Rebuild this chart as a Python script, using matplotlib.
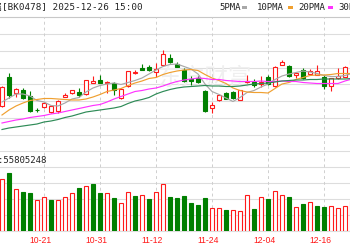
import matplotlib
matplotlib.use("Agg")
import matplotlib.pyplot as plt
from matplotlib.patches import Rectangle
from matplotlib import transforms
import numpy as np

# ---------------- data ----------------
board_name = "有色金属"
board_code = "[BK0478]"
timestamp = "2025-12-26 15:00"
volume_label = "量:55805248"
ma_labels = ["5PMA", "10PMA", "20PMA", "30PMA"]
watermark = "东方财富"

dates = ["10-13", "10-14", "10-15", "10-16", "10-17", "10-20", "10-21", "10-22", "10-23", "10-24",
         "10-27", "10-28", "10-29", "10-30", "10-31", "11-03", "11-04", "11-05", "11-06", "11-07",
         "11-10", "11-11", "11-12", "11-13", "11-14", "11-17", "11-18", "11-19", "11-20", "11-21",
         "11-24", "11-25", "11-26", "11-27", "11-28", "12-01", "12-02", "12-03", "12-04", "12-05",
         "12-08", "12-09", "12-10", "12-11", "12-12", "12-15", "12-16", "12-17", "12-18", "12-19",
         "12-22"]
tick_dates = ["10-21", "10-31", "11-12", "11-24", "12-04", "12-16"]

opens = [29, 58, 42.5, 45.5, 39, 25.5, 28.5, 23, 24, 38.5,
         42, 43.5, 41, 52.5, 55, 52.5, 52, 37, 49, 62,
         67, 68, 63, 70, 77, 71.5, 65.5, 56, 57.5, 44,
         27.5, 35, 42, 43, 35.5, 53, 53.5, 51, 58, 49,
         70.5, 69, 60.5, 65, 61.5, 60.5, 58, 49, 57, 58.5,
         71]
closes = [48, 40, 46, 37, 24.5, 25, 32, 29, 34, 40,
          45, 40, 55, 54.5, 52.5, 53.5, 45, 46.5, 64, 63,
          65.5, 65, 66.5, 81.5, 73.5, 68.5, 54.5, 54, 53.5, 24,
          30, 40, 36.5, 37, 45, 54.5, 50.5, 53, 51, 68,
          73, 59, 62, 57.5, 64.5, 64, 49, 57, 59, 68.5,
          75]
highs = [49, 62, 47, 47, 44, 27, 33, 30, 35, 42,
         45.5, 47, 55.5, 59, 60.5, 54, 53, 47, 64.5, 65,
         71, 70, 72, 85, 81, 73, 67, 59, 59, 45,
         33, 41, 43, 44, 45.5, 60, 56, 59, 60, 69,
         75, 70, 62, 67, 66, 70, 60, 57.5, 67, 69,
         77]
lows = [28, 37, 38, 36, 23, 23, 27, 22, 22, 38,
        41.5, 38, 40.5, 52, 52, 42, 40, 36.5, 48.5, 61,
        65, 64, 58, 69, 72, 68, 53, 50, 52, 23.5,
        22, 34.5, 36, 36.5, 35, 52, 48, 48, 50, 48.5,
        70, 58, 57, 56, 61, 60, 46, 44, 56.5, 58,
        70]
volume_mil = [51.7, 58.3, 41.7, 39.3, 38.3, 31, 33.7, 31, 31, 33.7,
              38.3, 42.7, 45.3, 46.7, 37.7, 37.7, 33.3, 28.3, 39.3, 35.3,
              36, 32, 39.3, 47, 34.3, 32.7, 35, 27.7, 26, 32.7,
              22.7, 22.7, 21, 21, 20, 36, 21.7, 33.7, 31.7, 39.7,
              36.3, 33.7, 23.7, 27, 29, 25.3, 24.3, 25.3, 22.7, 25.3,
              30.3]
ma5 = [33, 37, 41, 41, 39, 34.5, 33, 29.5, 29, 32,
       36, 37.5, 43, 47, 49.5, 51, 52, 50.5, 52.5, 54.5,
       57, 61, 65, 68.5, 70.5, 71, 68.5, 66, 61, 51,
       43.5, 40.5, 37, 33.5, 37.5, 42.5, 44.5, 48, 51, 55.5,
       59, 61, 62.5, 64, 63, 61.5, 59.5, 58.5, 58.5, 59.5,
       61.5]
ma10 = [20, 25, 29, 32, 34.5, 35.5, 36.5, 36.5, 36, 35.5,
        35, 35, 36, 38, 40.5, 43.5, 45, 46.5, 49.5, 52,
        54, 56.5, 57.5, 60.5, 62.5, 64, 65, 65.5, 64.5, 60.5,
        57, 54.5, 51.5, 47, 44.5, 43, 42.5, 42.5, 42, 46.5,
        51, 52.5, 55.5, 57.5, 59.5, 60, 60, 60.5, 61.5, 61.5,
        61.5]
ma20 = [12, 13.5, 15, 16, 17.5, 18.5, 19.5, 21, 22, 23.5,
        25, 26.5, 28, 29.5, 30.5, 33, 36, 38.5, 41, 43.5,
        44.5, 46, 47, 49, 51.5, 53.5, 55, 56, 57, 56.5,
        55.5, 55.5, 54.5, 54, 53.5, 53.5, 53.5, 54, 53.5, 53.5,
        54, 53.5, 53.5, 52.5, 52, 51.5, 51.5, 51.5, 51.5, 54,
        56]
ma30 = [5.5, 7, 8, 9, 10, 11, 13, 14, 15.5, 17.5,
        19, 21, 23, 24, 25, 26, 27, 28.5, 31.5, 34,
        35.5, 37.5, 41, 43.5, 45.5, 47, 48, 48.5, 49, 49.5,
        49, 49, 48.5, 48.5, 49, 50, 51, 51.5, 52, 53,
        54, 54.5, 55, 55, 55.5, 55.5, 56, 56, 56, 56,
        56.5]

# ---------------- style ----------------
RED = "#ff1a1a"
GREEN = "#007f00"
GRID = "#dddddd"
VGRID = "#cfcfcf"
MA_COLORS = ["#a8a8a8", "#f0a030", "#ff33ff", "#2e8b57"]
MONO = ["DejaVu Sans Mono", "Noto Sans CJK SC"]

W, H = 350, 250
def fy(p):
    return 1 - p / H

fig = plt.figure(figsize=(3.5, 2.5), dpi=100, facecolor="white")
ax = fig.add_axes([0, fy(135), 1, (135 - 17) / H])
axv = fig.add_axes([0, fy(231), 1, (231 - 135) / H])

x = np.arange(len(dates))
o = np.array(opens); c = np.array(closes)
hi = np.array(highs); lo = np.array(lows)
vol = np.array(volume_mil)

for a in (ax, axv):
    a.set_xlim(-2 / 7, 348 / 7)
    for s in a.spines.values():
        s.set_visible(False)
    a.set_xticks([]); a.set_yticks([])
    a.set_facecolor("none")
ax.set_ylim(0, 118)
axv.set_ylim(0, 96)

# horizontal grid
for k in range(1, 8):
    ax.axhline(118 * k / 7, color=("#c8c8c8" if k == 7 else GRID), lw=0.8, zorder=0.5, clip_on=False)
for k in range(0, 7):
    axv.axhline(96 * k / 6, color=GRID, lw=0.8, zorder=0.5, clip_on=False)

# vertical dashed grid
tick_idx = [dates.index(d) for d in tick_dates]
for a in (ax, axv):
    for t in tick_idx:
        a.axvline(t, color=VGRID, lw=0.7, ls=(0, (3, 3)), zorder=0.6)

# watermark
ax.text(205 / W, fy(78), watermark, transform=fig.transFigure, ha="center", va="center",
        fontsize=17, color="#efefef", family="Noto Sans CJK SC", zorder=0.55)

# candles
up = c >= o
edge = [RED if u else GREEN for u in up]
face = ["white" if u else GREEN for u in up]
ax.vlines(x, lo, hi, colors=edge, lw=0.8, zorder=2)
ax.bar(x, np.abs(c - o), bottom=np.minimum(o, c), width=0.64, color=face,
       edgecolor=edge, linewidth=0.8, zorder=3)

# moving averages
for vals, col in zip([ma5, ma10, ma20, ma30], MA_COLORS):
    ax.plot(x, vals, color=col, lw=0.85, zorder=4)

# volume
prev_close = np.concatenate([[o[0]], c[:-1]])
vup = c >= prev_close
vedge = [RED if u else GREEN for u in vup]
vface = ["white" if u else GREEN for u in vup]
axv.bar(x, vol, width=0.64, color=vface, edgecolor=vedge, linewidth=0.8, zorder=3)

# texts
fig.text(143 / W, fy(7.5), board_name + board_code + " " + timestamp, ha="right", va="center",
         fontsize=6.65, family=MONO, color="#222222")

legend_x = [219, 257, 298, 338]
rect_x = [242, 288, 328, 380]
for lab, col, lx, rx in zip(ma_labels, MA_COLORS, legend_x, rect_x):
    fig.text(lx / W, fy(7.5), lab, ha="left", va="center", fontsize=6.5, family=MONO, color="#222222")
    fig.add_artist(Rectangle((rx / W, fy(9)), 5 / W, 3 / H, transform=fig.transFigure,
                             facecolor=col, edgecolor="none"))

fig.text(-10.5 / W, fy(160.5), volume_label, ha="left", va="center", fontsize=6.5,
         family=MONO, color="#222222")

trans = transforms.blended_transform_factory(axv.transData, fig.transFigure) + \
    transforms.ScaledTranslation(-3.5 / 100, 0, fig.dpi_scale_trans)
for t, lab in zip(tick_idx, tick_dates):
    axv.text(t, fy(240.5), lab, transform=trans, ha="center", va="center",
             fontsize=6.2, family="Liberation Sans", color=RED, clip_on=False)

fig.savefig("out.png", dpi=100, facecolor="white")
